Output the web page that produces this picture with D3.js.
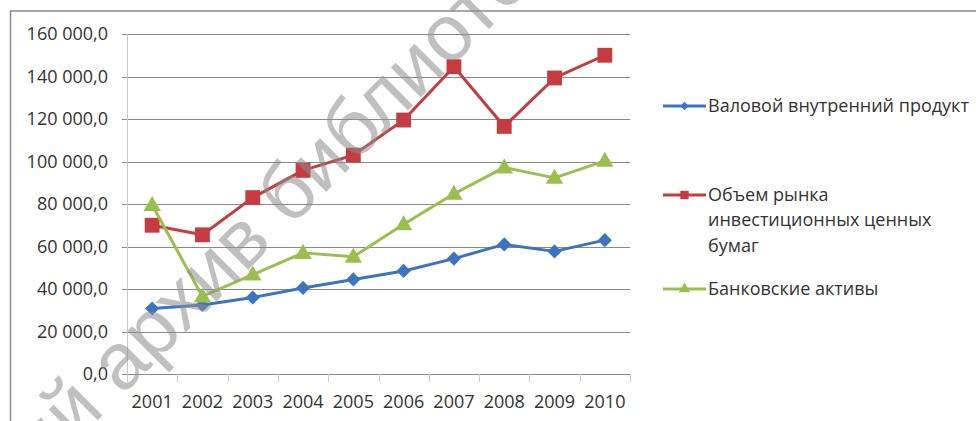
<!DOCTYPE html>
<html>
<head>
<meta charset="utf-8">
<script src="https://cdn.jsdelivr.net/npm/d3@7"></script>
<style>
    body { margin: 0; background: #fff; }
    svg text { font-family: "Open Sans", sans-serif; fill: #333; }
</style>
</head>
<body>
<div id="chart-area"></div>
<script>

// chart data
var years = ['2001', '2002', '2003', '2004', '2005', '2006', '2007', '2008', '2009', '2010'];
var gdp = [30800, 32500, 36000, 40500, 44500, 48500, 54300, 61000, 57700, 63000];
var securities = [70000, 65500, 83000, 95800, 103000, 119500, 144600, 116500, 139300, 150000];
var bankAssets = [79500, 36500, 46800, 57000, 55200, 70500, 84800, 97200, 92300, 100300];
var seriesNames = [
    ['Валовой внутренний продукт'],
    ['Объем рынка', 'инвестиционных ценных', 'бумаг'],
    ['Банковские активы']
];
var yTicks = [0, 20000, 40000, 60000, 80000, 100000, 120000, 140000, 160000];


LineChart = function(_parentElement){
    this.parentElement = _parentElement;
    this.initVis();
};

LineChart.prototype.initVis = function(){
    var vis = this;

    vis.width = 976;
    vis.height = 421;
    vis.plot = { left: 127, right: 630, top: 34, bottom: 374 };

    vis.svg = d3.select("#" + vis.parentElement).append("svg")
        .attr("width", vis.width)
        .attr("height", vis.height);

    // outer chart frame (partly cut off by the picture)
    vis.svg.append("rect")
        .attr("x", 10.5)
        .attr("y", 11)
        .attr("width", 1000)
        .attr("height", 500)
        .attr("fill", "none")
        .attr("stroke", "#8c8c8c")
        .attr("stroke-width", 1.5);

    vis.x = d3.scaleBand()
        .domain(years)
        .range([vis.plot.left, vis.plot.right]);
    vis.y = d3.scaleLinear()
        .domain([0, 160000])
        .range([vis.plot.bottom, vis.plot.top]);

    var locale = d3.formatLocale({ decimal: ",", thousands: " ", grouping: [3], currency: ["", ""] });
    vis.fmt = locale.format(",.1f");

    // diamond = square turned by 45 degrees
    vis.series = [
        { values: gdp, color: "#3c74c2", marker: d3.symbolSquare, turn: 45, size: 100, legendSize: 36, dy: 0 },
        { values: securities, color: "#c63b3f", marker: d3.symbolSquare, turn: 0, size: 220, legendSize: 70, dy: 0 },
        { values: bankAssets, color: "#9bbf4f", marker: d3.symbolTriangle, turn: 0, size: 130, legendSize: 55, dy: 1 }
    ];

    vis.updateVis();
};

LineChart.prototype.updateVis = function(){
    var vis = this;
    var half = vis.x.bandwidth() / 2;

    // gridlines
    vis.svg.append("g").selectAll("line")
        .data(yTicks)
        .enter().append("line")
        .attr("x1", vis.plot.left - 5)
        .attr("x2", vis.plot.right)
        .attr("y1", function(d) { return Math.round(vis.y(d)) + 0.5; })
        .attr("y2", function(d) { return Math.round(vis.y(d)) + 0.5; })
        .attr("stroke", "#8a8a8a")
        .attr("stroke-width", 1);

    // y axis line
    vis.svg.append("line")
        .attr("x1", vis.plot.left + 0.5).attr("x2", vis.plot.left + 0.5)
        .attr("y1", vis.plot.top).attr("y2", vis.plot.bottom + 7)
        .attr("stroke", "#c8c8c8");

    // category tick marks
    var bounds = years.map(function(d) { return vis.x(d); }).concat([vis.plot.right]);
    vis.svg.append("g").selectAll("line")
        .data(bounds)
        .enter().append("line")
        .attr("x1", function(d) { return Math.round(d) + 0.5; })
        .attr("x2", function(d) { return Math.round(d) + 0.5; })
        .attr("y1", vis.plot.bottom)
        .attr("y2", vis.plot.bottom + 8)
        .attr("stroke", "#c8c8c8");

    // y labels
    vis.svg.append("g").selectAll("text")
        .data(yTicks)
        .enter().append("text")
        .attr("x", 108)
        .attr("y", function(d) { return vis.y(d); })
        .attr("dy", "0.36em")
        .style("text-anchor", "end")
        .style("font-size", "18px")
        .text(function(d) { return vis.fmt(d); });

    // x labels
    vis.svg.append("g").selectAll("text")
        .data(years)
        .enter().append("text")
        .attr("x", function(d) { return vis.x(d) + half; })
        .attr("y", 408)
        .style("text-anchor", "middle")
        .style("font-size", "18px")
        .text(function(d) { return d; });

    // series lines and markers
    vis.series.forEach(function(s) {
        var pts = s.values.map(function(v, i) { return [vis.x(years[i]) + half, vis.y(v)]; });

        vis.svg.append("path")
            .datum(pts)
            .attr("d", d3.line())
            .attr("fill", "none")
            .attr("stroke", s.color)
            .attr("stroke-width", 3)
            .attr("stroke-linejoin", "round");

        vis.svg.append("g").selectAll("path")
            .data(pts)
            .enter().append("path")
            .attr("d", d3.symbol().type(s.marker).size(s.size))
            .attr("transform", function(d) {
                return "translate(" + d[0] + "," + (d[1] + s.dy) + ") rotate(" + s.turn + ")";
            })
            .attr("fill", s.color);
    });

    // legend
    var legendY = [106, 195, 289];
    vis.series.forEach(function(s, i) {
        var g = vis.svg.append("g")
            .attr("transform", "translate(663," + legendY[i] + ")");
        g.append("line")
            .attr("x1", 0).attr("x2", 43)
            .attr("stroke", s.color)
            .attr("stroke-width", 3);
        g.append("path")
            .attr("d", d3.symbol().type(s.marker).size(s.legendSize))
            .attr("transform", "translate(21.5,0) rotate(" + s.turn + ")")
            .attr("fill", s.color);
        g.selectAll("text")
            .data(seriesNames[i])
            .enter().append("text")
            .attr("x", 45)
            .attr("y", function(d, k) { return k * 25.5; })
            .attr("dy", "0.33em")
            .style("font-size", "18px")
            .text(function(d) { return d; });
    });

    // library watermark over the picture
    var wm = vis.svg.append("g")
        .attr("transform", "translate(122,396) rotate(-45)")
        .style("pointer-events", "none");
    wm.append("text")
        .style("text-anchor", "end")
        .style("font-family", "'Liberation Sans', Arial, sans-serif")
        .style("font-size", "80px")
        .style("fill", "#8c8c8c")
        .style("fill-opacity", 0.55)
        .text("Электронный\u00a0");
    wm.append("text")
        .style("text-anchor", "start")
        .style("font-family", "'Liberation Sans', Arial, sans-serif")
        .style("font-size", "80px")
        .style("fill", "#8c8c8c")
        .style("fill-opacity", 0.55)
        .text("архив библиотеки");
};

var chart = new LineChart("chart-area");

</script>
</body>
</html>
